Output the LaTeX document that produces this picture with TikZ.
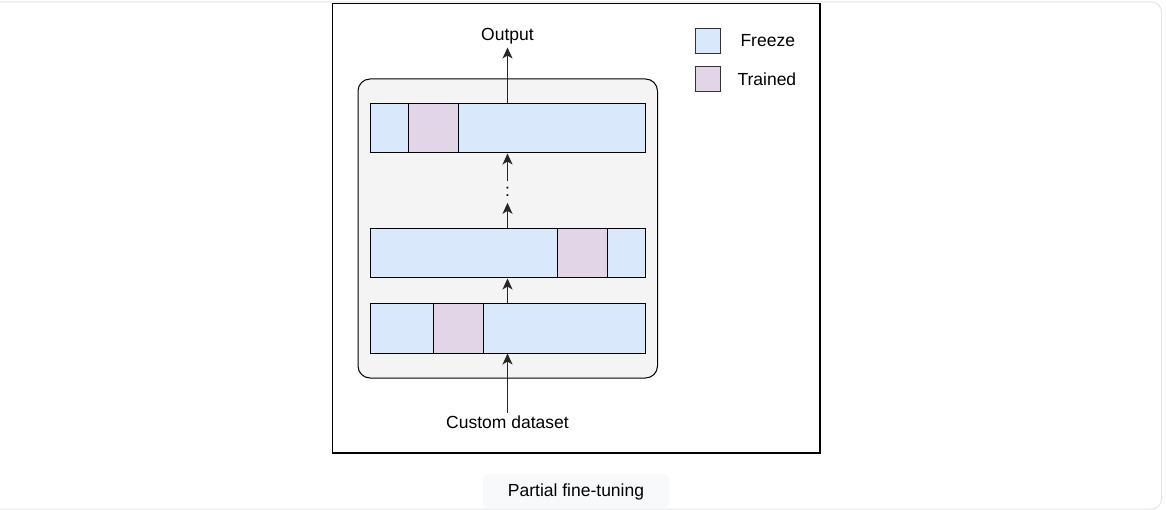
\documentclass[tikz,border=0pt]{standalone}
\usepackage{fontspec}
\setmainfont{Liberation Sans}
\usetikzlibrary{positioning, arrows.meta}

\definecolor{freezeblue}{HTML}{DAE8FC}
\definecolor{trainpurple}{HTML}{E1D5E7}
\definecolor{boxgray}{HTML}{F4F4F4}
\definecolor{capfill}{HTML}{F8F9FB}
\definecolor{pageline}{HTML}{E4E4E4}

\tikzset{
  freeze/.style={draw, fill=freezeblue, line width=1pt, minimum height=49pt, inner sep=0pt},
  trained/.style={draw, fill=trainpurple, line width=1pt, minimum width=50pt, minimum height=49pt, inner sep=0pt},
  key/.style={draw=black!80, line width=1pt, minimum width=25pt, minimum height=25pt, inner sep=0pt},
  flow/.style={-{Stealth[length=11pt, width=10pt, inset=3pt]}, line width=1pt, black!85},
  lbl/.style={font=\fontsize{17.5}{21}\selectfont}
}

\begin{document}
\begin{tikzpicture}[x=1pt, y=-1pt, node distance=25pt]
        \useasboundingbox (0,0) rectangle (1166,510);

        % Frames
        \draw[pageline, line width=1pt, rounded corners=10pt] (-20,2) rectangle (1161.5,509);
        \draw[line width=1.3pt] (332.5,3.5) rectangle (820,453);
        \draw[fill=boxgray, line width=1pt, rounded corners=12pt] (358,79) rectangle (657.5,378);

        % Nodes
        \node (bar1) [freeze, minimum width=275pt] at (507.5,328.5) {};
        \node (bar2) [freeze, minimum width=275pt, above=of bar1] {};
        \node (bar3) [freeze, minimum width=275pt, above=75pt of bar2] {};

        \node (tr1) [trained, anchor=west] at ([xshift=63pt]bar1.west) {};
        \node (tr2) [trained, anchor=west] at ([xshift=187pt]bar2.west) {};
        \node (tr3) [trained, anchor=west] at ([xshift=38pt]bar3.west) {};

        \node (dots) [lbl, inner sep=6pt] at (507.5,192) {:};
        \node (out) [lbl, above=56pt of bar3] {Output};
        \node (data) [lbl, below=59pt of bar1] {Custom dataset};

        % Legend
        \node (keyF) [key, fill=freezeblue] at (708,41) {};
        \node (keyT) [key, fill=trainpurple, below=12pt of keyF] {};
        \node (lblF) [lbl, right=16pt of keyF] {Freeze};
        \node (lblT) [lbl, right=13pt of keyT, yshift=-0.5pt] {Trained};

        % Caption
        \node (cap) [lbl, fill=capfill, rounded corners=6pt, minimum width=186pt, minimum height=35pt]
            at (576,491.5) {Partial fine-tuning};

        % Arrows
        \draw[flow] (data) -- (bar1);
        \draw[flow] (bar1) -- (bar2);
        \draw[flow] (bar2) -- (dots);
        \draw[flow] (dots) -- (bar3);
        \draw[flow] (bar3) -- (out);
\end{tikzpicture}
\end{document}
